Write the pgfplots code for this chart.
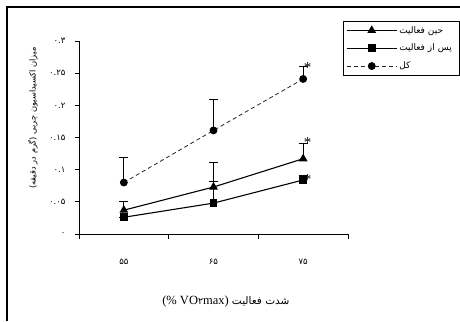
\documentclass[border=0pt]{standalone}
\usepackage{fontspec}
\setmainfont{Liberation Serif}
\newfontfamily\fa[Script=Arabic]{DejaVu Sans}
\usepackage{pgfplots}
\pgfplotsset{compat=1.18}
\TeXXeTstate=1
\begin{document}
\begin{tikzpicture}[x=1pt,y=1pt]
\path[use as bounding box] (0,0) rectangle (460,321);
\draw[line width=1.6pt] (7,0) -- (7,314) -- (460,314);
\begin{axis}[
  at={(79pt,87pt)}, anchor=south west, scale only axis,
  width=269pt, height=193pt,
  xmin=-0.5, xmax=2.5, ymin=0, ymax=0.3,
  axis x line=bottom, axis y line=left,
  axis line style={-, line width=0.8pt},
  xtick={0,1,2},
  xticklabels={{\fa ۵۵},{\fa ۶۵},{\fa ۷۵}},
  major x tick style={draw=none},
  minor xtick={-0.5,0.5,1.5,2.5},
  minor tick length=5pt,
  ytick={0,0.05,0.1,0.15,0.2,0.25,0.3},
  yticklabels={{\fa ۰},{\fa ۰.۰۵},{\fa ۰.۱},{\fa ۰.۱۵},{\fa ۰.۲},{\fa ۰.۲۵},{\fa ۰.۳}},
  tick align=outside, major tick length=4pt,
  tick style={black, line width=0.8pt},
  ticklabel style={font=\fontsize{8.5}{9}\selectfont},
  xticklabel style={yshift=-18pt},
  yticklabel style={xshift=-6pt},
  xlabel={(\% VO{\fa\fontsize{9.5}{11}\selectfont ۲}max) {\fa\fontsize{10.5}{12}\selectfont\beginR شدت فعالیت\endR}},
  xlabel style={at={(axis description cs:0.546,-0.352)}, anchor=center, font=\fontsize{12.5}{14}\selectfont},
  ylabel={\fa\beginR میزان اکسیداسیون چربی (گرم در دقیقه)\endR},
  ylabel style={at={(axis description cs:-0.171,0.6)}, anchor=center, font=\fontsize{8.3}{10}\selectfont},
  legend style={at={(0.981,1.104)}, anchor=north west, draw=black, line width=0.6pt,
    font=\fontsize{9}{10}\selectfont, row sep=5.5pt, inner sep=3pt,
    nodes={text width=55pt, align=left}},
  legend cell align=left,
  legend image code/.code={\draw[mark repeat=2,mark phase=2] plot coordinates {(0pt,0pt) (25pt,0pt) (50pt,0pt)};},
  error bars/y dir=plus, error bars/y explicit,
  error bars/error bar style={line width=1pt, solid, black},
  error bars/error mark options={line width=1pt, mark size=4.5pt, rotate=90, solid, black},
  clip=false,
]
\addplot[black, line width=1.1pt, mark=triangle*, mark size=4pt, mark options={solid}]
  coordinates {(0,0.037) +- (0,0.013) (1,0.073) +- (0,0.038) (2,0.117) +- (0,0.024)};
\addlegendentry{\mbox{\fa\beginR حین فعالیت\endR}}
\addplot[black, line width=1.1pt, mark=square*, mark size=3.3pt, mark options={solid}]
  coordinates {(0,0.026) +- (0,0.0) (1,0.048) +- (0,0.033) (2,0.084) +- (0,0.007)};
\addlegendentry{\mbox{\fa\beginR پس از فعالیت\endR}}
\addplot[black!85, line width=0.8pt, dash pattern=on 4pt off 3pt, mark=*, mark size=3.5pt, mark options={solid, fill=black, draw=black}]
  coordinates {(0,0.080) +- (0,0.039) (1,0.161) +- (0,0.048) (2,0.241) +- (0,0.020)};
\addlegendentry{\mbox{\fa\beginR کل\endR}}
\addplot[draw=none, mark=none, forget plot, nodes near coords={*},
  every node near coord/.style={anchor=center, font=\fontsize{15}{15}\selectfont, inner sep=0pt}]
  coordinates {(2.05,0.259) (2.05,0.142) (2.05,0.084)};
\end{axis}
\end{tikzpicture}
\end{document}
